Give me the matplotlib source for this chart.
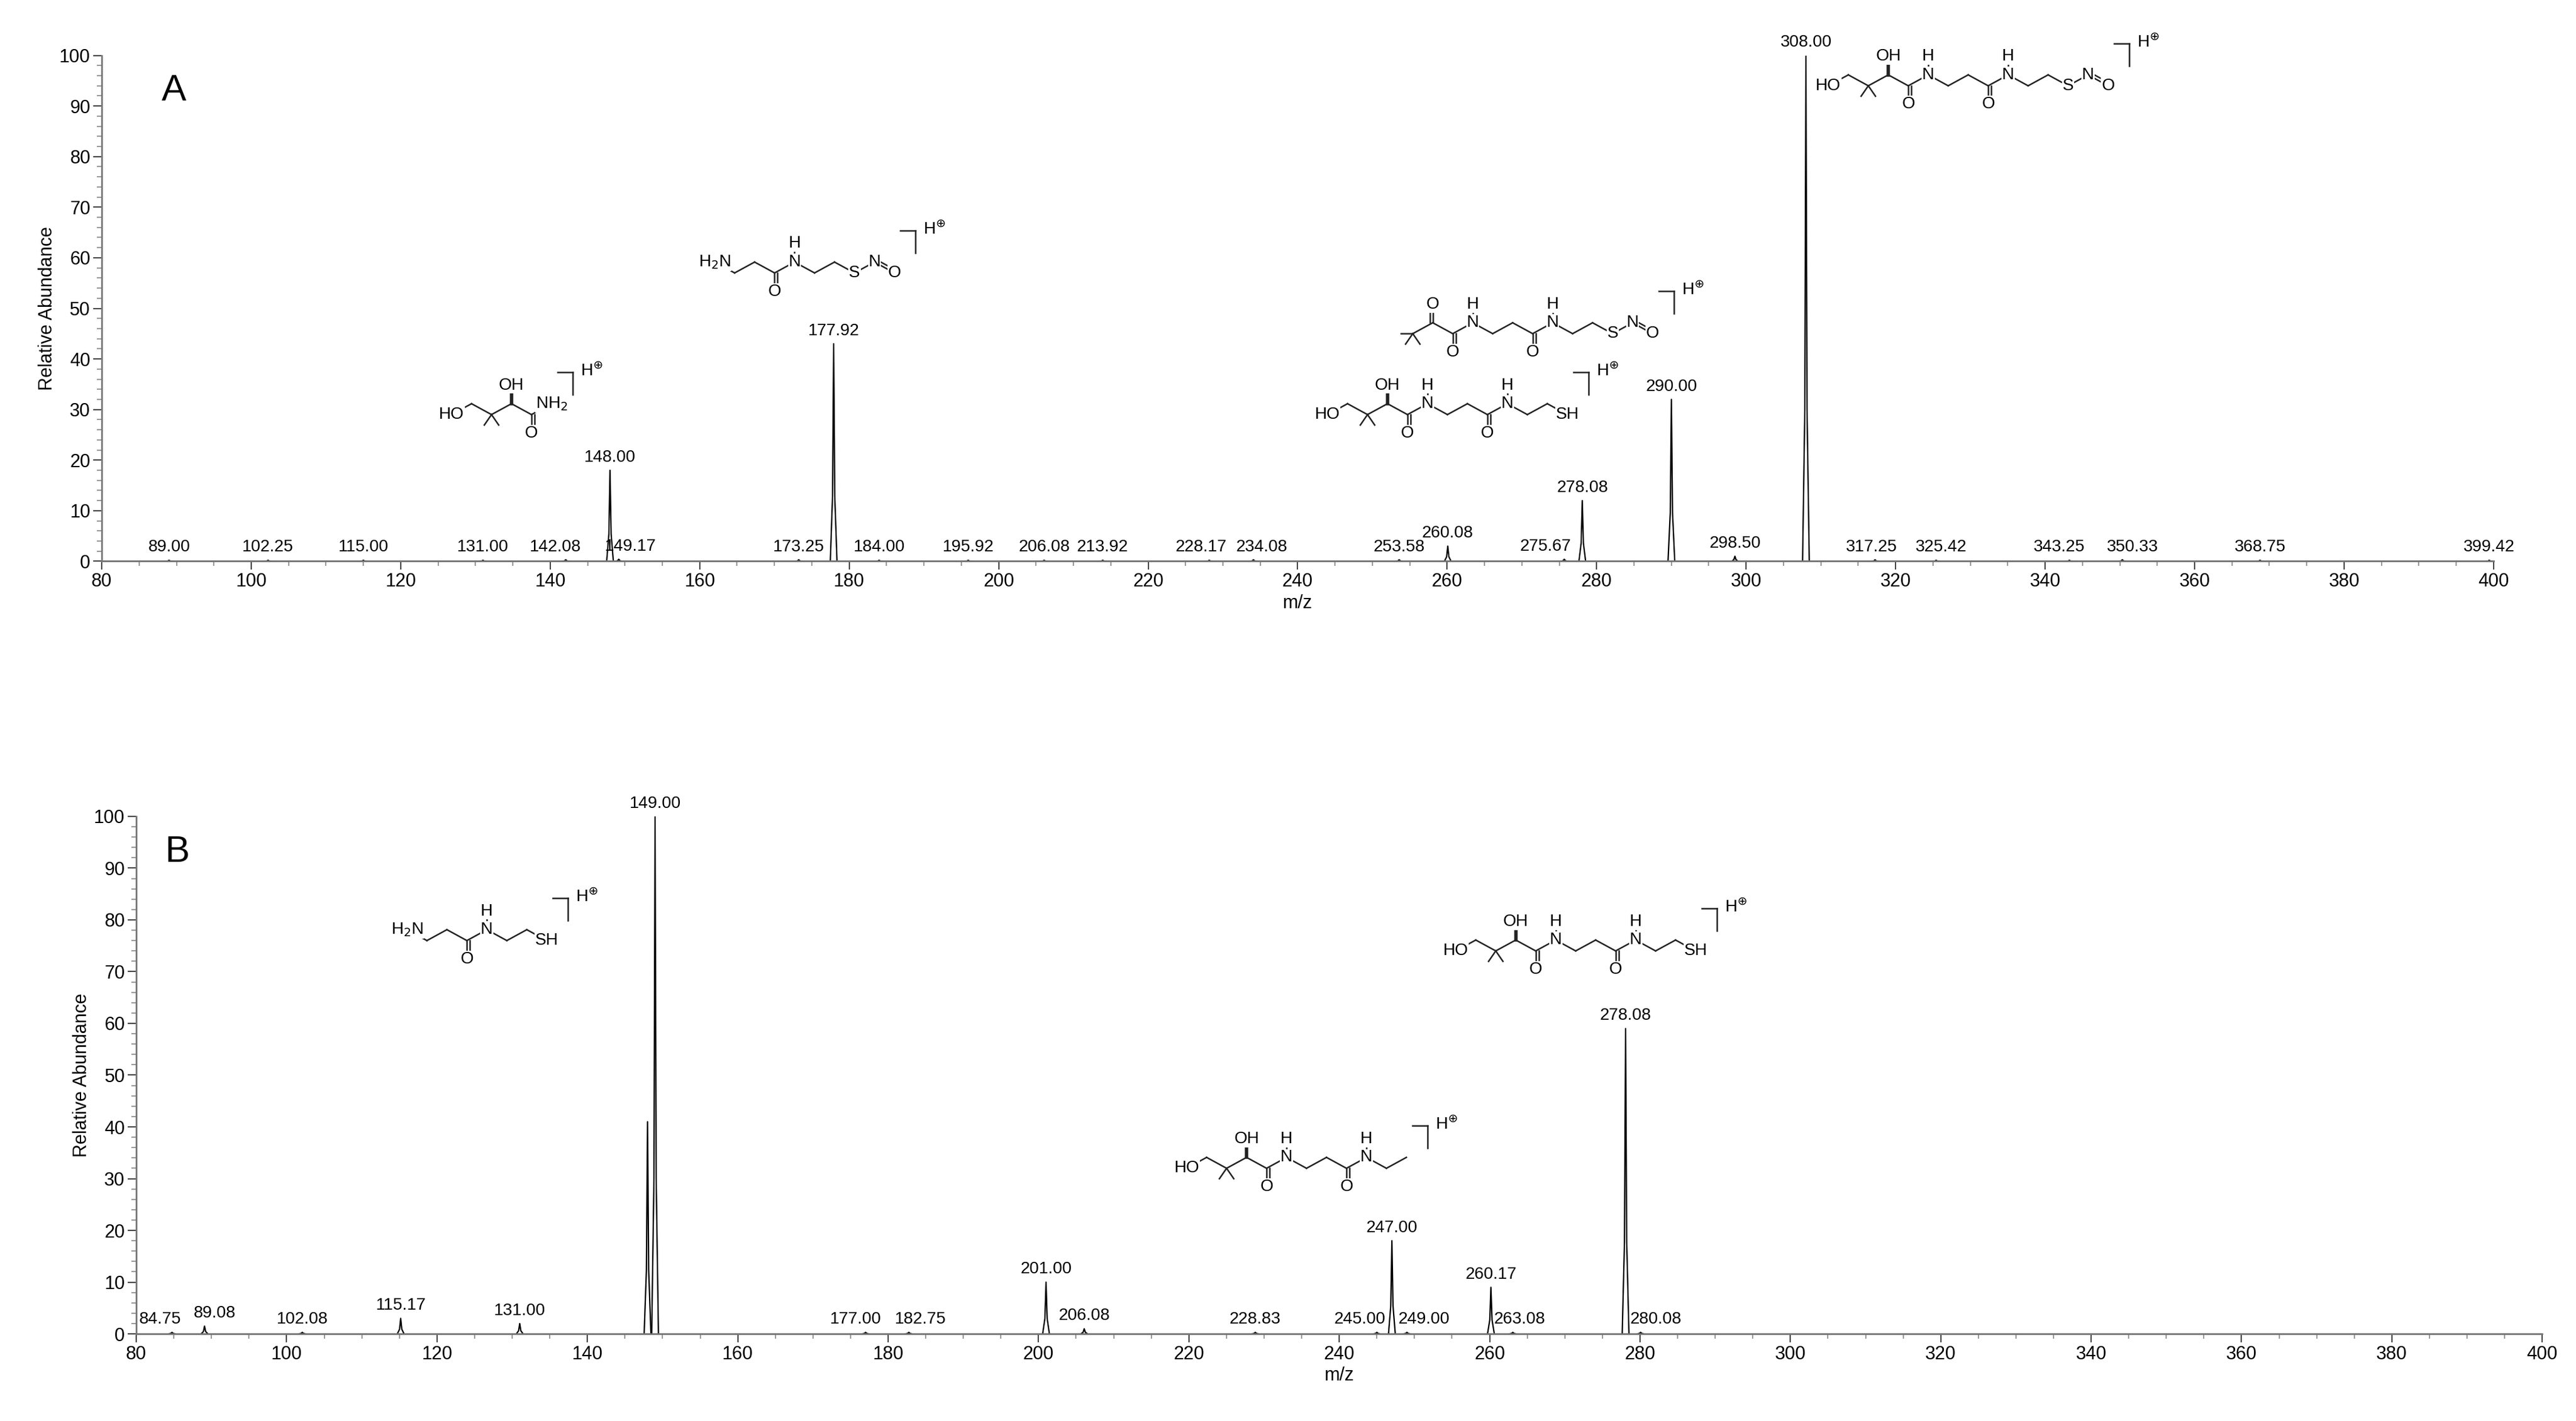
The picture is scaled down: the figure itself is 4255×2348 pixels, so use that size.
"""Recreate the two-panel MS/MS spectra (A, B) with peak labels and fragment sketches."""

import matplotlib
matplotlib.use("Agg")
import matplotlib.pyplot as plt
from matplotlib.lines import Line2D
from matplotlib.ticker import MultipleLocator
import numpy as np

plt.rcParams["font.family"] = ["Liberation Sans", "DejaVu Sans"]

# ---- panel A data ----
A_MZ = [89.00, 102.25, 115.00, 131.00, 142.08, 148.00, 149.17, 173.25, 177.92,
        184.00, 195.92, 206.08, 213.92, 228.17, 234.08, 253.58, 260.08, 275.67,
        278.08, 290.00, 298.50, 308.00, 317.25, 325.42, 343.25, 350.33, 368.75,
        399.42]
A_INT = [0.2, 0.2, 0.2, 0.2, 0.3, 18.0, 0.4, 0.3, 43.0,
         0.2, 0.2, 0.2, 0.2, 0.2, 0.3, 0.3, 3.0, 0.4,
         12.0, 32.0, 1.0, 100.0, 0.3, 0.2, 0.2, 0.3, 0.2,
         0.2]

# ---- panel B data ----
B_MZ = [84.75, 89.08, 102.08, 115.17, 131.00, 149.00, 177.00, 182.75, 201.00,
        206.08, 228.83, 245.00, 247.00, 249.00, 260.17, 263.08, 278.08, 280.08]
B_INT = [0.3, 1.5, 0.3, 3.0, 2.0, 100.0, 0.3, 0.3, 10.0,
         1.0, 0.3, 0.3, 18.0, 0.3, 9.0, 0.3, 59.0, 0.3]
# unlabeled companion peak next to 149.00
B_EXTRA_MZ = [148.0]
B_EXTRA_INT = [41.0]

# label nudges (points) to keep crowded labels apart, as in the reference
NUDGE = {142.08: -12, 149.17: 14, 228.17: -10, 234.08: 10, 275.67: -22,
         343.25: -12, 350.33: 12, 317.25: -4, 325.42: 6,
         84.75: -14, 89.08: 12, 177.00: -12, 182.75: 14, 245.00: -20,
         249.00: 20, 263.08: 8, 280.08: 18, 298.50: 0}

DPI = 100
BOND_DX, BOND_DY = 33, 18
LINE = "#222222"

fig = plt.figure(figsize=(42.55, 23.48), dpi=DPI)
axA = fig.add_axes([0.0395, 0.605, 0.9285, 0.356])
axB = fig.add_axes([0.0529, 0.0613, 0.934, 0.3642])


def spectrum(ax, mz, inten, extra_mz=(), extra_int=(), xlim=(80, 400)):
    ax.plot(xlim, [0, 0], color="#555555", lw=2)
    for m, i in list(zip(mz, inten)) + list(zip(extra_mz, extra_int)):
        ax.plot([m - 0.45, m - 0.15, m, m + 0.15, m + 0.45],
                [0, i * 0.3, i, i * 0.3, 0], color="black", lw=1.6)
    for m, i in zip(mz, inten):
        ax.annotate(f"{m:.2f}", (m, i), xytext=(NUDGE.get(m, 0), 6),
                    textcoords="offset points", ha="center", va="bottom",
                    fontsize=20)
    ax.set_xlim(*xlim)
    ax.set_ylim(0, 100)
    ax.xaxis.set_major_locator(MultipleLocator(20))
    ax.xaxis.set_minor_locator(MultipleLocator(5))
    ax.yaxis.set_major_locator(MultipleLocator(10))
    ax.yaxis.set_minor_locator(MultipleLocator(2))
    ax.tick_params(axis="both", which="major", labelsize=22, length=10, width=1.5,
                   color="#444444")
    ax.tick_params(axis="both", which="minor", length=6, width=1.5, color="#999999")
    for s in ("top", "right"):
        ax.spines[s].set_visible(False)
    for s in ("left", "bottom"):
        ax.spines[s].set_color("#777777")
        ax.spines[s].set_linewidth(2)
    ax.set_xlabel("m/z", fontsize=22)
    ax.set_ylabel("Relative Abundance", fontsize=22)


spectrum(axA, A_MZ, A_INT)
spectrum(axB, B_MZ, B_INT, B_EXTRA_MZ, B_EXTRA_INT)
axA.text(0.025, 0.93, "A", transform=axA.transAxes, fontsize=44, va="center")
axB.text(0.012, 0.93, "B", transform=axB.transAxes, fontsize=44, va="center")

DIRS = {"up": (0, 1.9), "down": (0, -1.9), "dl": (-0.6, -1.6), "dr": (0.6, -1.6),
        "ul": (-1.0, 0.0)}


def pix_line(p, q, lw=1.8, offset=0.0):
    (x0, y0), (x1, y1) = p, q
    if offset:
        vx, vy = x1 - x0, y1 - y0
        n = np.hypot(vx, vy)
        nx, ny = -vy / n * offset, vx / n * offset
        x0, y0, x1, y1 = x0 + nx, y0 + ny, x1 + nx, y1 + ny
    fig.add_artist(Line2D([x0 / fig.bbox.width, x1 / fig.bbox.width],
                          [y0 / fig.bbox.height, y1 / fig.bbox.height],
                          transform=fig.transFigure, color=LINE, lw=lw, zorder=3))


def pix_text(p, s, size=20, ha="center"):
    fig.text(p[0] / fig.bbox.width, p[1] / fig.bbox.height, s, fontsize=size,
             ha=ha, va="center", zorder=5,
             bbox=dict(facecolor="white", edgecolor="none", pad=0.5))


def structure(ax, x, y, atoms, start_up=False):
    """atoms: list of (label, [(sub_label, direction, double), ...])."""
    x0, y0 = ax.transData.transform((x, y))
    pts = []
    for k in range(len(atoms)):
        up = (k % 2 == 1) != start_up
        pts.append((x0 + k * BOND_DX, y0 + (BOND_DY if up else 0)))
    for k in range(len(pts) - 1):
        pix_line(pts[k], pts[k + 1])
        if atoms[k + 1][0] == "O":
            pix_line(pts[k], pts[k + 1], offset=5)
    for (label, subs), p in zip(atoms, pts):
        for sl, d, dbl in subs:
            dx, dy = DIRS[d]
            q = (p[0] + dx * BOND_DX * 0.6, p[1] + dy * BOND_DY * 0.6)
            pix_line(p, q, lw=4 if sl == "OH" else 1.8)
            if dbl:
                pix_line(p, q, offset=5)
            if sl:
                pix_text((q[0], q[1] + np.sign(dy) * 10), sl)
        if label:
            pix_text(p, label)
    # ]H+ bracket, just above-right of the chain end
    ex, ey = pts[-1][0] + 10, max(pt[1] for pt in pts) + 40
    pix_line((ex, ey + 12), (ex + 25, ey + 12))
    pix_line((ex + 25, ey + 12), (ex + 25, ey - 25))
    pix_text((ex + 38, ey + 14), r"H$^{\oplus}$", ha="left")


PANTOYL = [("HO", []), ("", []), ("", [("", "dl", False), ("", "dr", False)]),
           ("", [("OH", "up", False)]), ("", [("O", "down", True)])]
BALA = [("N", [("H", "up", False)]), ("", []), ("", []), ("", [("O", "down", True)]),
        ("N", [("H", "up", False)]), ("", []), ("", [])]
KETO = [("", [("", "dl", False), ("", "dr", False), ("", "ul", False)]),
        ("", [("O", "up", True)]), ("", [("O", "down", True)])]

# panel A fragments
structure(axA, 126.8, 29, PANTOYL + [("NH$_2$", [])])
structure(axA, 162, 57, [("H$_2$N", []), ("", []), ("", []), ("", [("O", "down", True)]),
                         ("N", [("H", "up", False)]), ("", []), ("", []), ("S", []),
                         ("N", []), ("O", [])], start_up=True)
structure(axA, 255.4, 45, KETO + BALA + [("S", []), ("N", []), ("O", [])])
structure(axA, 244, 29, PANTOYL + BALA + [("SH", [])])
structure(axA, 311, 94, PANTOYL + BALA + [("S", []), ("N", []), ("O", [])])

# panel B fragments
structure(axB, 116, 76, [("H$_2$N", []), ("", []), ("", []), ("", [("O", "down", True)]),
                         ("N", [("H", "up", False)]), ("", []), ("", []), ("SH", [])],
          start_up=True)
structure(axB, 255.5, 74, PANTOYL + BALA + [("SH", [])])
structure(axB, 219.7, 32, PANTOYL + BALA[:4] + [("N", [("H", "up", False)]), ("", []), ("", [])])

fig.savefig("out.png", dpi=DPI, facecolor="white")
